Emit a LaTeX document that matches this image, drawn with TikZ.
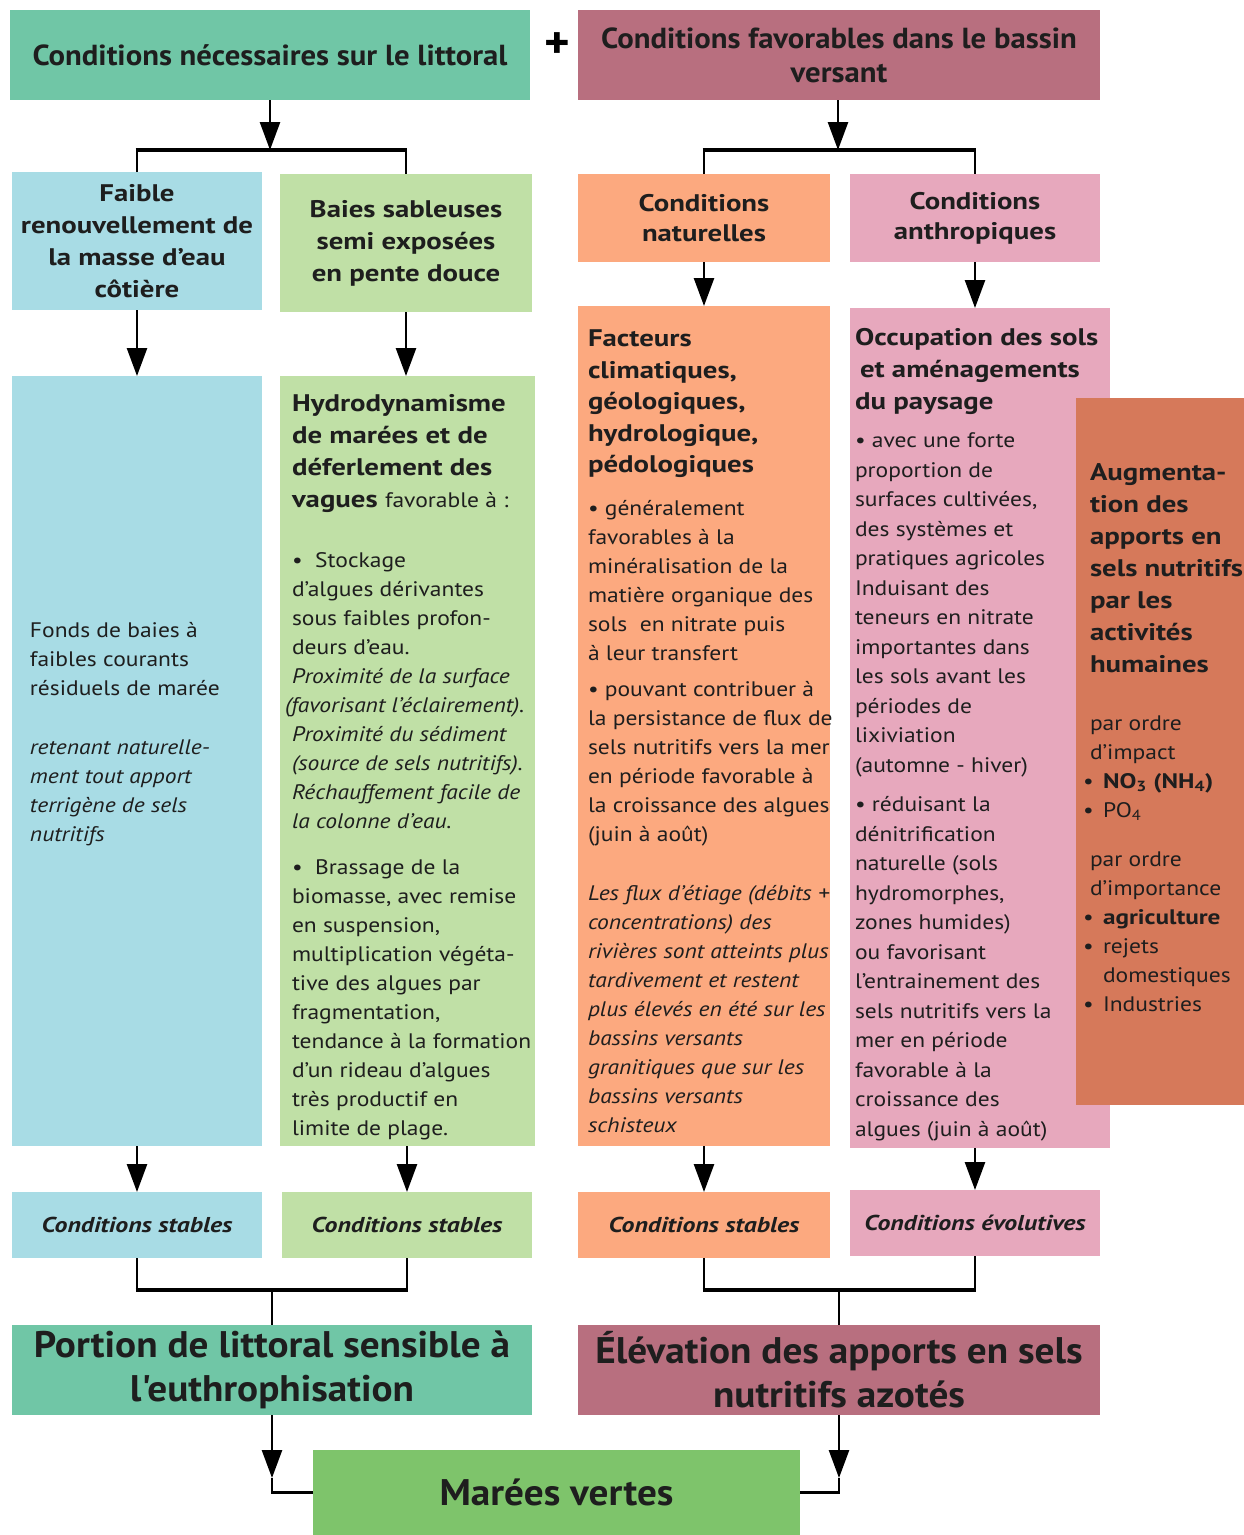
\documentclass[tikz,border=0pt]{standalone}
\usepackage{fontspec}
\setmainfont{PT Sans}[
  UprightFeatures={FakeStretch=1.12},
  ItalicFeatures={FakeStretch=1.12},
  BoldFeatures={FakeStretch=1.2},
  BoldItalicFeatures={FakeStretch=1.2}]
\newfontfamily\hdr{PT Sans}[FakeStretch=1.06]
\usetikzlibrary{arrows.meta}
\definecolor{cteal}{HTML}{70C6A6}
\definecolor{crose}{HTML}{B86F7F}
\definecolor{cblue}{HTML}{A8DCE5}
\definecolor{cgreen}{HTML}{C0E0A6}
\definecolor{corange}{HTML}{FCA97F}
\definecolor{cpink}{HTML}{E7A8BD}
\definecolor{cdark}{HTML}{D6795A}
\definecolor{cmaree}{HTML}{7EC46B}
\definecolor{ink}{HTML}{1E1E1E}
\newcommand\fs[2]{\fontsize{#1}{#2}\selectfont}
\newcommand\bul{\makebox[20pt][l]{•}}
\begin{document}
\begin{tikzpicture}[x=1pt,y=-1pt,
  box/.style={anchor=north west, inner sep=0pt, outer sep=0pt, draw=none, align=center, text=ink},
  txt/.style={anchor=north west, inner sep=0pt, outer sep=0pt, align=left, text=ink},
  body/.style={txt, font=\fs{21}{29}},
  head/.style={txt, font=\bfseries\fs{24}{32}},
  ln/.style={line width=2.6pt, draw=black},
  bar/.style={line width=4.5pt, draw=black, shorten <=-1.3pt, shorten >=-1.3pt},
  arr/.style={line width=2.6pt, draw=black, -{Triangle[length=28pt,width=20pt]}},
]
\useasboundingbox (0,0) rectangle (1244,1535);
\fill[white] (0,0) rectangle (1244,1535);

% ---------- row 1
\node[box, fill=cteal, minimum width=520pt, minimum height=90pt,
  font=\hdr\bfseries\fs{29}{34}] (top1) at (10,10) {Conditions nécessaires sur le littoral};
\node[box, fill=crose, minimum width=522pt, minimum height=90pt,
  font=\hdr\bfseries\fs{29}{34}] (top2) at (578,10) {Conditions favorables dans le bassin\\versant};
\node[anchor=center, inner sep=0pt, font=\hdr\bfseries\fs{46}{48}] (plus) at (557,46) {+};

% ---------- row 2
\node[box, fill=cblue, minimum width=250pt, minimum height=138pt,
  font=\bfseries\fs{24}{32}] (blue2) at (12,172) {Faible\\renouvellement de\\la masse d'eau\\côtière};
\node[box, fill=cgreen, minimum width=252pt, minimum height=138pt,
  font=\bfseries\fs{24}{32}] (green2) at (280,174) {Baies sableuses\\semi exposées\\en pente douce};
\node[box, fill=corange, minimum width=252pt, minimum height=88pt,
  font=\bfseries\fs{24}{30}] (orange2) at (578,174) {Conditions\\naturelles};
\node[box, fill=cpink, minimum width=250pt, minimum height=88pt,
  font=\bfseries\fs{24}{30}] (pink2) at (850,174) {Conditions\\anthropiques};

% ---------- row 3
\node[box, fill=cblue, minimum width=250pt, minimum height=770pt] (blue3) at (12,376) {};
\node[box, fill=cgreen, minimum width=255pt, minimum height=770pt] (green3) at (280,376) {};
\node[box, fill=corange, minimum width=252pt, minimum height=840pt] (orange3) at (578,306) {};
\node[box, fill=cpink, minimum width=260pt, minimum height=840pt] (pink3) at (850,308) {};
\node[box, fill=cdark, minimum width=168pt, minimum height=707pt] (dark3) at (1076,398) {};

% blue text
\node[body] (blue3t) at (30,621) {\rule{0pt}{16.5pt}Fonds de baies à\\faibles courants\\résiduels de marée\\[30pt]
  \textit{retenant naturelle-}\\\textit{ment tout apport}\\\textit{terrigène de sels}\\\textit{nutritifs}};

% green text
\node[head] (green3h) at (292,393) {\rule{0pt}{18.5pt}Hydrodynamisme\\de marées et de\\déferlement des\\vagues {\mdseries\fs{21}{32}favorable à :}};
\node[body] (green3t) at (292,551) {\rule{0pt}{16.5pt}• \ Stockage\\d'algues dérivantes\\sous faibles profon-\\deurs d'eau.\\
  \textit{Proximité de la surface}\\\hspace*{-7pt}\textit{(favorisant l'éclairement).}\\\textit{Proximité du sédiment}\\
  \textit{(source de sels nutritifs).}\\\textit{Réchauffement facile de}\\\textit{la colonne d'eau.}\\[17pt]
  • \ Brassage de la\\biomasse, avec remise\\en suspension,\\multiplication végéta-\\tive des algues par\\
  fragmentation,\\tendance à la formation\\d'un rideau d'algues\\très productif en\\limite de plage.};

% orange text
\node[head, font=\bfseries\fs{24}{31.5}] (orange3h) at (588,328) {\rule{0pt}{18.5pt}Facteurs\\climatiques,\\géologiques,\\hydrologique,\\pédologiques};
\node[body] (orange3t) at (588,499) {\rule{0pt}{16.5pt}• généralement\\favorables à la\\minéralisation de la\\matière organique des\\sols \ en nitrate puis\\à leur transfert\\[7pt]
  • pouvant contribuer à\\la persistance de flux de\\sels nutritifs vers la mer\\en période favorable à\\la croissance des algues\\(juin à août)\\[30pt]
  \textit{Les flux d'étiage (débits +}\\\textit{concentrations) des}\\\textit{rivières sont atteints plus}\\\textit{tardivement et restent}\\
  \textit{plus élevés en été sur les}\\\textit{bassins versants}\\\textit{granitiques que sur les}\\\textit{bassins versants}\\\textit{schisteux}};

% pink text
\node[head] (pink3h) at (855,327) {\rule{0pt}{18.5pt}Occupation des sols\\\hspace*{5pt}et aménagements\\du paysage};
\node[body, font=\fs{21}{29.5}] (pink3t) at (855,431) {\rule{0pt}{16.5pt}• avec une forte\\proportion de\\surfaces cultivées,\\des systèmes et\\pratiques agricoles\\Induisant des\\teneurs en nitrate\\importantes dans\\les sols avant les\\périodes de\\lixiviation\\(automne - hiver)\\[10pt]
  • réduisant la\\dénitrification\\naturelle (sols\\hydromorphes,\\zones humides)\\ou favorisant\\l'entrainement des\\sels nutritifs vers la\\mer en période\\favorable à la\\croissance des\\algues (juin à août)};

% dark orange text
\node[head] (dark3h) at (1090,462) {\rule{0pt}{18.5pt}Augmenta-\\tion des\\apports en\\sels nutritifs\\par les\\activités\\humaines};
\node[body] (dark3t) at (1083,714) {\rule{0pt}{16.5pt}\hspace*{7pt}par ordre\\\hspace*{7pt}d'impact\\\bul\textbf{NO\textsubscript{3} (NH\textsubscript{4})}\\\bul PO\textsubscript{4}\\[20pt]
  \hspace*{7pt}par ordre\\\hspace*{7pt}d'importance\\\bul\textbf{agriculture}\\\bul rejets\\\hspace*{20pt}domestiques\\\bul Industries};

% ---------- row 4
\node[box, fill=cblue, minimum width=250pt, minimum height=66pt,
  font=\bfseries\itshape\fs{21.5}{28}] (blue4) at (12,1192) {Conditions stables};
\node[box, fill=cgreen, minimum width=250pt, minimum height=66pt,
  font=\bfseries\itshape\fs{21.5}{28}] (green4) at (282,1192) {Conditions stables};
\node[box, fill=corange, minimum width=252pt, minimum height=66pt,
  font=\bfseries\itshape\fs{21.5}{28}] (orange4) at (578,1192) {Conditions stables};
\node[box, fill=cpink, minimum width=250pt, minimum height=66pt,
  font=\bfseries\itshape\fs{21.5}{28}] (pink4) at (850,1190) {Conditions évolutives};

% ---------- row 5
\node[box, fill=cteal, minimum width=520pt, minimum height=90pt,
  font=\hdr\bfseries\fs{37}{44}] (left5) at (12,1325) {Portion de littoral sensible à\\l'euthrophisation};
\node[box, fill=crose, minimum width=522pt, minimum height=90pt,
  font=\hdr\bfseries\fs{37}{44}] (right5) at (578,1325) {Élévation des apports en sels\\nutritifs azotés};
\node[box, fill=cmaree, minimum width=487pt, minimum height=85pt,
  font=\hdr\bfseries\fs{37}{44}] (maree) at (313,1450) {Marées vertes};

% ---------- connectors
\coordinate (j1L) at (270,150);
\coordinate (j1R) at (838,150);
\draw[ln] (blue2.north) -- (blue2.north |- j1L) -- (green2.north |- j1L) -- (green2.north);
\draw[bar] (blue2.north |- j1L) -- (green2.north |- j1L);
\draw[arr] (top1.south -| j1L) -- (j1L);
\draw[ln] (orange2.north) -- (orange2.north |- j1R) -- (pink2.north |- j1R) -- (pink2.north);
\draw[bar] (orange2.north |- j1R) -- (pink2.north |- j1R);
\draw[arr] (top2.south -| j1R) -- (j1R);

\draw[arr] (blue2.south) -- (blue3.north -| blue2.south);
\draw[arr] (green2.south) -- (green3.north -| green2.south);
\draw[arr] (orange2.south) -- (orange3.north -| orange2.south);
\draw[arr] (pink2.south) -- (pink3.north -| pink2.south);

\draw[arr] (blue3.south -| blue4.north) -- (blue4.north);
\draw[arr] (green3.south -| green4.north) -- (green4.north);
\draw[arr] (orange3.south -| orange4.north) -- (orange4.north);
\draw[arr] (pink3.south -| pink4.north) -- (pink4.north);

\coordinate (j4L) at (272,1290);
\coordinate (j4R) at (839,1290);
\draw[ln] (blue4.south) -- (blue4.south |- j4L) -- (green4.south |- j4L) -- (green4.south);
\draw[bar] (blue4.south |- j4L) -- (green4.south |- j4L);
\draw[ln] (j4L) -- (left5.north -| j4L);
\draw[ln] (orange4.south) -- (orange4.south |- j4R) -- (pink4.south |- j4R) -- (pink4.south);
\draw[bar] (orange4.south |- j4R) -- (pink4.south |- j4R);
\draw[ln] (j4R) -- (right5.north -| j4R);

\coordinate (aL) at (272,1478);
\coordinate (aR) at (839,1478);
\draw[ln] (aL) |- (maree.west);
\draw[ln] (aR) |- (maree.east);
\draw[arr] (left5.south -| aL) -- (aL);
\draw[arr] (right5.south -| aR) -- (aR);
\end{tikzpicture}
\end{document}
